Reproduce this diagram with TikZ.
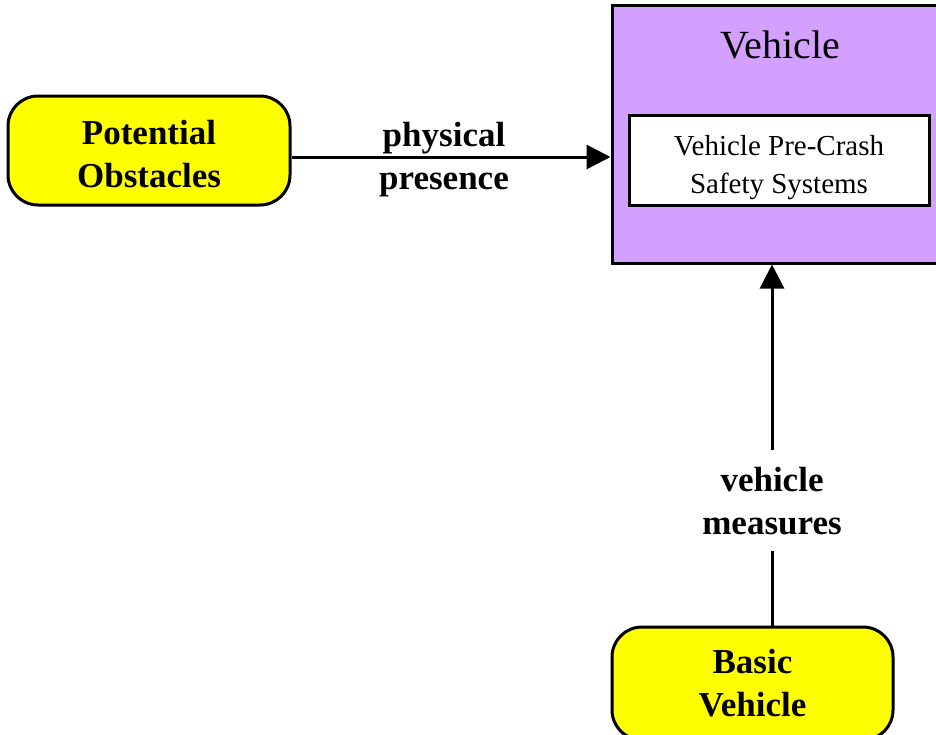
\documentclass[tikz,border=0pt]{standalone}
\usepackage{fontspec}
\setmainfont{Liberation Serif}
\usepackage{xcolor}
\usetikzlibrary{
    arrows.meta,
    positioning,
    calc
}
\definecolor{vehpurple}{RGB}{211,160,255}
\definecolor{actoryellow}{RGB}{255,255,0}
\tikzset{
    actor/.style={
        draw,
        line width=3pt,
        rounded corners=30pt,
        align=center,
        fill=actoryellow,
        font=\fontsize{35}{43}\selectfont\bfseries
    }
}
\tikzset{
    system/.style={
        draw,
        line width=3pt,
        fill=vehpurple,
        minimum width=338pt,
        minimum height=258pt
    }
}
\tikzset{
    subsystem/.style={
        draw,
        line width=3pt,
        fill=white,
        minimum width=300pt,
        minimum height=90pt,
        align=center,
        font=\fontsize{29}{38}\selectfont
    }
}
\tikzset{
    flow/.style={
        draw=black,
        line width=3pt,
        -{Triangle[length=24pt,width=24pt]}
    }
}
\tikzset{
    flowlabel/.style={
        align=center,
        font=\fontsize{35}{43}\selectfont\bfseries
    }
}

\begin{document}
\begin{tikzpicture}[
    x=1pt,
    y=-1pt
]
\useasboundingbox (0,0) rectangle (936,734);

\node[actor, minimum width=282pt, minimum height=109pt] (obstacles)
    at (149,150.5) {\rule{0pt}{31pt}Potential\\Obstacles};

\node[system] (vehicle) at (781,134) {};
\node[font=\fontsize{40}{48}\selectfont] (vehtitle) at (780,45) {Vehicle};
\node[subsystem] (precrash) at (779,160)
    {\rule{0pt}{36pt}Vehicle Pre-Crash\\Safety Systems};

\node[actor, minimum width=281pt, minimum height=113pt] (basic)
    at (752.5,683.5) {Basic\\Vehicle};

\draw[flow] ([yshift=-6.5pt]obstacles.east) -- ([yshift=-6.5pt]obstacles.east -| vehicle.west);
\node[flowlabel] (presence) at (444,159.5) {physical\\presence};

\draw[flow] (basic.north -| 772,0) --
    node[flowlabel, fill=white, inner sep=17pt, pos=0.346] (measures)
    {vehicle\\measures}
    (vehicle.south -| 772,0);

\end{tikzpicture}
\end{document}
